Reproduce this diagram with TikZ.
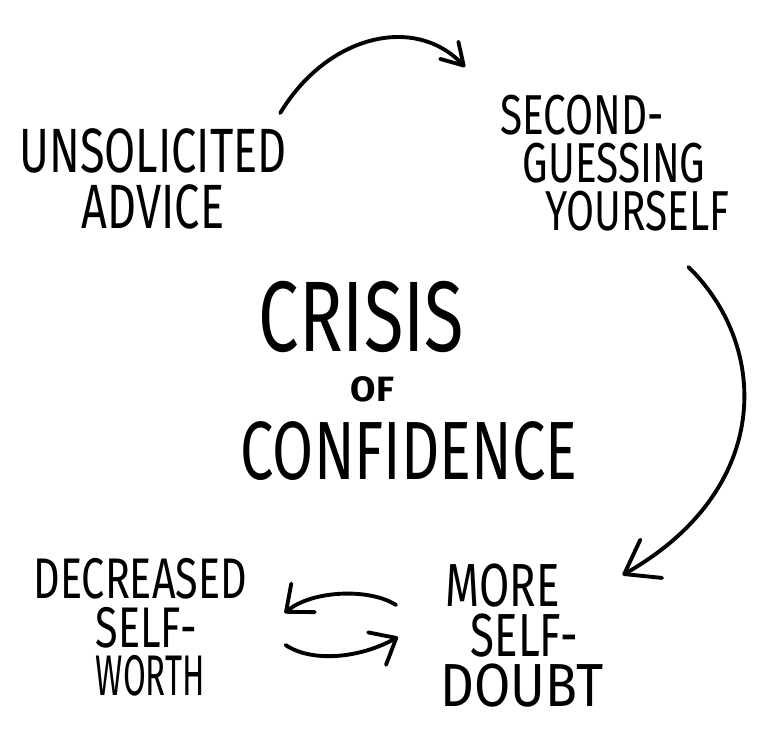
\documentclass[tikz,border=0pt]{standalone}
\usepackage{graphicx}
\usepackage{fontspec}
\setmainfont{Fira Sans}[FakeStretch=0.72]
\usetikzlibrary{arrows.meta}
\tikzset{
	handtext/.style={inner sep=0pt, font=\fontsize{16.5}{14.5}\selectfont}
}
\tikzset{
	handarrow/.style={line width=1.1pt, line cap=round, -{Straight Barb[length=2.2mm, width=3.7mm, round]}}
}

\begin{document}
\begin{tikzpicture}[x=0.01cm, y=-0.01cm]
      \useasboundingbox (0,0) rectangle (768,745);
      \node[handtext, font=\fontsize{17.8}{15.8}\selectfont, align=center, anchor=north] (unsol) at (153,128) {UNSOLICITED\\ADVICE};
      \node[handtext, font=\fontsize{16}{13.7}\selectfont, align=left, anchor=north west] (second) at (500,94) {SECOND-\\\hspace*{2.2mm}GUESSING\\\hspace*{4.5mm}YOURSELF};
      \node[handtext, font=\fontsize{23.5}{22.2}\selectfont, align=left, anchor=north west] (crisis) at (240,281) {\hspace*{1.8mm}{\fontsize{28.5}{22.2}\selectfont CRISIS}\\[-8pt]\hspace*{11mm}{\fontsize{10}{22.2}\selectfont\bfseries\scalebox{1.45}[1]{OF}}\\CONFIDENCE};
      \node[handtext, font=\fontsize{16.3}{13.7}\selectfont, align=left, anchor=north west] (decr) at (33,558) {DECREASED\\\hspace*{6.2mm}SELF-\\\hspace*{6.2mm}\scalebox{0.8}[1]{WORTH}};
      \node[handtext, font=\fontsize{17.3}{14.2}\selectfont, align=left, anchor=north west] (more) at (440,563) {\hspace*{0.5mm}MORE\\\hspace*{3mm}SELF-\\\scalebox{1.2}[1]{DOUBT}};
      \draw[handarrow, -{Straight Barb[length=2.1mm, width=2.5mm, round]}] ([shift={(-7,-15)}]unsol.north east) .. controls +(47,-78) and +(-50,-53) .. ([shift={(-35,-27)}]second.north west);
      \draw[handarrow, -{Straight Barb[length=3.1mm, width=4.4mm, round]}] ([shift={(-42,35)}]second.south east) .. controls +(82,80) and +(150,-85) .. ([shift={(18,12)}]more.north east);
      \draw[handarrow] ([shift={(-44,42)}]more.north west) .. controls +(-26,-17) and +(28,-23) .. ([shift={(37,55)}]decr.north east);
      \draw[handarrow] ([shift={(38,87)}]decr.north east) .. controls +(27,18) and +(-38,21) .. ([shift={(-42,74)}]more.north west);
    \end{tikzpicture}
\end{document}
